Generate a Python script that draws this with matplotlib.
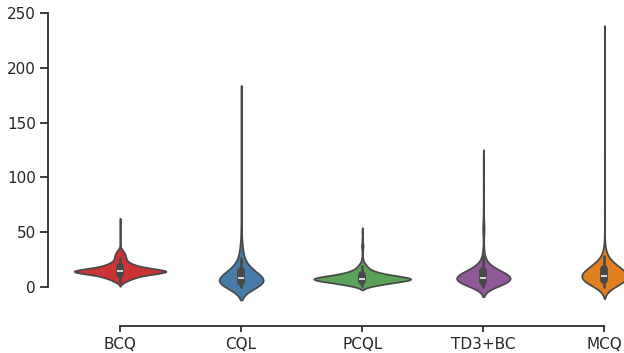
import numpy as np
import pandas as pd
import matplotlib
matplotlib.use("Agg")
import matplotlib.pyplot as plt
import seaborn as sns

# Algorithms shown on the x axis
algorithms = ["BCQ", "CQL", "PCQL", "TD3+BC", "MCQ"]

# Binned samples per algorithm: value -> number of runs at that value
bcq_values = [4, 6, 8, 10, 12, 14, 16, 18, 20, 22, 24, 26, 28, 30, 32, 34, 38, 44, 52, 59]
bcq_counts = [10, 22, 34, 52, 86, 152, 86, 52, 34, 22, 16, 14, 14, 12, 9, 5, 1, 1, 1, 1]

cql_values = [0, 2, 4, 6, 8, 10, 12, 14, 16, 18, 20, 23, 26, 30, 34, 38, 44, 52,
              62, 75, 90, 100, 110, 130, 150, 172]
cql_counts = [32, 42, 43, 39, 33, 26, 20, 15, 12, 10, 8, 7, 6, 5, 4, 3, 2, 2,
              1, 1, 1, 1, 1, 1, 1, 1]

pcql_values = [1, 3, 5, 7, 9, 11, 13, 15, 17, 19, 21, 24, 28, 33, 37, 39, 44, 50]
pcql_counts = [18, 34, 54, 84, 54, 34, 20, 12, 8, 6, 4, 2, 1, 1, 2, 1, 1, 1]

td3bc_values = [0, 2, 4, 6, 8, 10, 12, 14, 16, 18, 21, 24, 28, 33, 40, 47, 51, 55,
                59, 65, 75, 90, 104, 116]
td3bc_counts = [14, 24, 32, 37, 38, 33, 26, 19, 14, 10, 7, 4, 3, 2, 1, 1, 2, 2,
                1, 1, 1, 1, 1, 1]

mcq_values = [0, 2, 4, 6, 8, 10, 12, 14, 16, 18, 20, 22, 25, 28, 32, 36, 45, 70,
              120, 228]
mcq_counts = [10, 18, 25, 30, 32, 31, 28, 24, 20, 16, 13, 10, 7, 5, 3, 2, 1, 1,
              1, 1]

y_ticks = [0, 50, 100, 150, 200, 250]

series = {
    "BCQ": (bcq_values, bcq_counts),
    "CQL": (cql_values, cql_counts),
    "PCQL": (pcql_values, pcql_counts),
    "TD3+BC": (td3bc_values, td3bc_counts),
    "MCQ": (mcq_values, mcq_counts),
}

frames = []
for name in algorithms:
    vals, cnts = series[name]
    frames.append(pd.DataFrame({
        "algorithm": name,
        "value": np.repeat(np.asarray(vals, dtype=float), cnts),
    }))
df = pd.concat(frames, ignore_index=True)

sns.set_theme(style="ticks", context="notebook")
plt.rcParams["font.family"] = ["DejaVu Sans"]
plt.rcParams["xtick.major.size"] = 4.5
plt.rcParams["ytick.major.size"] = 5.5
plt.rcParams["xtick.major.pad"] = 3.0

fig = plt.figure(figsize=(6.24, 3.53), dpi=100)
ax = fig.add_axes([0.0954, 0.1068, 0.9703, 0.8708])

sns.violinplot(data=df, x="algorithm", y="value", hue="algorithm",
               order=algorithms, hue_order=algorithms, palette="Set1",
               common_norm=True, legend=False, ax=ax)

ax.set_xlim(-0.5, 4.5)
ax.set_ylim(-26.2, 255)
ax.set_yticks(y_ticks)
ax.set_xlabel("")
ax.set_ylabel("")
sns.despine(ax=ax, offset=8, trim=True)

fig.savefig("out.png", dpi=100)
